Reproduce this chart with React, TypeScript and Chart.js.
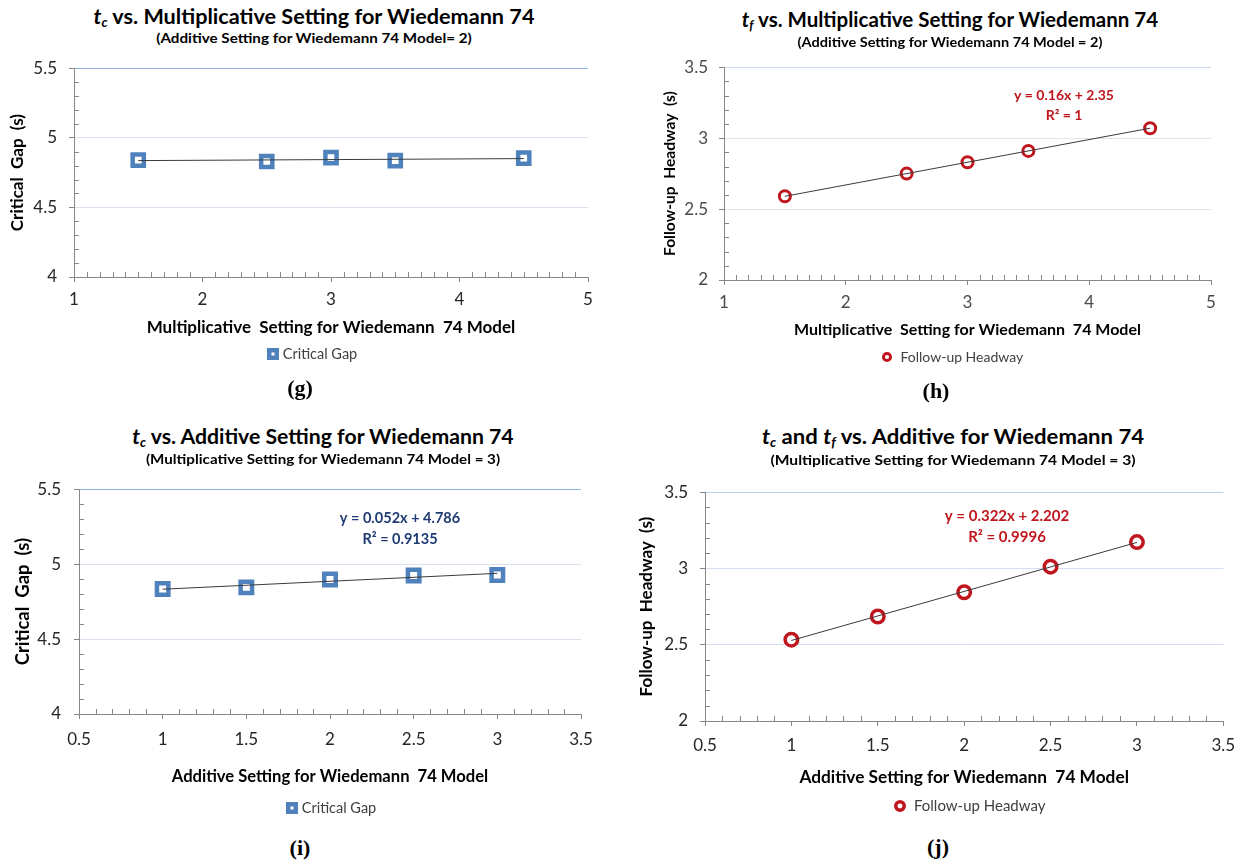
import React, { useEffect, useLayoutEffect, useRef } from "react";
import { Chart, registerables } from "chart.js";

Chart.register(...registerables);
Chart.defaults.font.family = "Lato";

// ---------- data ----------
const gX = [1.5, 2.5, 3, 3.5, 4.5];
const gY = [4.84, 4.83, 4.857, 4.836, 4.854];
const hX = [1.5, 2.5, 3, 3.5, 4.5];
const hY = [2.59, 2.75, 2.83, 2.91, 3.07];
const iX = [1, 1.5, 2, 2.5, 3];
const iY = [4.834, 4.845, 4.898, 4.924, 4.927];
const jX = [1, 1.5, 2, 2.5, 3];
const jY = [2.533, 2.685, 2.844, 3.012, 3.173];

const multTicks = [1, 2, 3, 4, 5];
const addTicks = [0.5, 1, 1.5, 2, 2.5, 3, 3.5];
const gapTicks = [4, 4.5, 5, 5.5];
const headwayTicks = [2, 2.5, 3, 3.5];

const gapLabel = "Critical Gap";
const headwayLabel = "Follow-up Headway";
const gapAxis = "Critical  Gap  (s)";
const headwayAxis = "Follow-up  Headway  (s)";
const multAxis = "Multiplicative  Setting for Wiedemann  74 Model";
const addAxis = "Additive Setting for Wiedemann  74 Model";

const hEq = ["y = 0.16x + 2.35", "R\u00B2 = 1"];
const iEq = ["y = 0.052x + 4.786", "R\u00B2 = 0.9135"];
const jEq = ["y = 0.322x + 2.202", "R\u00B2 = 0.9996"];

// ---------- helpers ----------
function trend(xs: number[], ys: number[]) {
  const n = xs.length;
  const mx = xs.reduce((a, b) => a + b, 0) / n;
  const my = ys.reduce((a, b) => a + b, 0) / n;
  let sxy = 0, sxx = 0;
  for (let k = 0; k < n; k++) {
    sxy += (xs[k] - mx) * (ys[k] - my);
    sxx += (xs[k] - mx) * (xs[k] - mx);
  }
  const b = sxy / sxx;
  const a = my - b * mx;
  const lo = Math.min(...xs), hi = Math.max(...xs);
  return [{ x: lo, y: a + b * lo }, { x: hi, y: a + b * hi }];
}

const placeLegend = {
  id: "placeLegend",
  afterLayout(chart: any, _a: any, o: any) {
    const lg = chart.legend;
    if (!lg || !o || o.x == null) return;
    const pad = lg.options.labels.padding;
    const lw = lg.lineWidths ? lg.lineWidths[0] : 0;
    const wd = lg.right - lg.left;
    const left = o.x - (wd + pad - lw) / 2;
    lg.left = left;
    lg.right = left + wd;
    const h = lg.bottom - lg.top;
    lg.top = o.y - pad - o.ih / 2;
    lg.bottom = lg.top + h;
  },
};

const minorTicks = {
  id: "minorTicks",
  afterDraw(chart: any, _a: any, o: any) {
    const { ctx, chartArea } = chart;
    const xs = chart.scales.x, ys = chart.scales.y;
    ctx.save();
    ctx.strokeStyle = o.color;
    ctx.lineWidth = 1;
    const isMajor = (s: any, v: number) => s.ticks.some((t: any) => Math.abs(t.value - v) < 1e-7);
    const nY = Math.round((ys.max - ys.min) / o.yStep);
    for (let k = 1; k < nY; k++) {
      const v = ys.min + k * o.yStep;
      if (isMajor(ys, v)) continue;
      const p = Math.round(ys.getPixelForValue(v)) + 0.5;
      ctx.beginPath();
      ctx.moveTo(chartArea.left, p);
      ctx.lineTo(chartArea.left + o.len, p);
      ctx.stroke();
    }
    const nX = Math.round((xs.max - xs.min) / o.xStep);
    for (let k = 1; k < nX; k++) {
      const v = xs.min + k * o.xStep;
      if (isMajor(xs, v)) continue;
      const p = Math.round(xs.getPixelForValue(v)) + 0.5;
      ctx.beginPath();
      ctx.moveTo(p, chartArea.bottom);
      ctx.lineTo(p, chartArea.bottom - o.len);
      ctx.stroke();
    }
    ctx.restore();
  },
};

const eqText = {
  id: "eqText",
  afterDatasetsDraw(chart: any, _a: any, o: any) {
    if (!o || !o.lines) return;
    const ctx = chart.ctx;
    ctx.save();
    ctx.font = `bold ${o.size}px Lato`;
    ctx.fillStyle = o.color;
    ctx.textAlign = "center";
    ctx.textBaseline = "middle";
    for (let k = 0; k < o.lines.length; k++) ctx.fillText(o.lines[k], o.x, o.ys[k]);
    ctx.restore();
  },
};

// ---------- panel configs (layout only) ----------
type Cfg = any;

const panels: Cfg[] = [
  {
    key: "g", xs: gX, ys: gY, xTicks: multTicks, yTicks: gapTicks,
    canvas: { x: 0, y: 46, w: 620, h: 330 },
    area: { l: 74, r: 588, t: 64, b: 277 },
    yTitle: { text: gapAxis, x: 18, size: 17 },
    xTitle: { text: multAxis, y: 328, size: 17 },
    tickSize: 17, tickColor: "#262626", yLabelRight: 57, xLabelY: 300,
    legend: { text: gapLabel, cx: 273, cy: 354, fs: 14.5, bw: 5, bh: 7.5 },
    marker: { style: "rect", r: 7.9, bw: 4.5, color: "#4f81bd" },
    grid: { top: "#8db3e2", mid: "#d9e3f0" },
    eq: null,
  },
  {
    key: "h", xs: hX, ys: hY, xTicks: multTicks, yTicks: headwayTicks,
    canvas: { x: 620, y: 46, w: 625, h: 334 },
    area: { l: 724, r: 1211, t: 67, b: 280 },
    yTitle: { text: headwayAxis, x: 670, size: 15.6 },
    xTitle: { text: multAxis, y: 330, size: 16 },
    tickSize: 17, tickColor: "#4a4a4a", yLabelRight: 708, xLabelY: 303,
    legend: { text: headwayLabel, cx: 887, cy: 357, fs: 14, bw: 13, bh: 5 },
    marker: { style: "circle", r: 5.5, bw: 3, color: "#c0161e" },
    grid: { top: "#cbd8ea", mid: "#dde5f0" },
    eq: { lines: hEq, x: 1064, ys: [95, 115], size: 14, color: "#c0161e" },
  },
  {
    key: "i", xs: iX, ys: iY, xTicks: addTicks, yTicks: gapTicks,
    canvas: { x: 0, y: 466, w: 620, h: 360 },
    area: { l: 79, r: 581, t: 482, b: 714 },
    yTitle: { text: gapAxis, x: 23, size: 18.5 },
    xTitle: { text: addAxis, y: 777, size: 16.6 },
    tickSize: 17, tickColor: "#262626", yLabelRight: 61, xLabelY: 740,
    legend: { text: gapLabel, cx: 292, cy: 808, fs: 14.5, bw: 5, bh: 7.5 },
    marker: { style: "rect", r: 8.1, bw: 4.5, color: "#4f81bd" },
    grid: { top: "#8db3e2", mid: "#d9e3f0" },
    eq: { lines: iEq, x: 400, ys: [518, 539], size: 14.5, color: "#1f3b73" },
  },
  {
    key: "j", xs: jX, ys: jY, xTicks: addTicks, yTicks: headwayTicks,
    canvas: { x: 620, y: 470, w: 625, h: 356 },
    area: { l: 705, r: 1227, t: 488, b: 721 },
    yTitle: { text: headwayAxis, x: 647, size: 17 },
    xTitle: { text: addAxis, y: 777, size: 17.3 },
    tickSize: 17, tickColor: "#262626", yLabelRight: 688, xLabelY: 746,
    legend: { text: headwayLabel, cx: 900, cy: 806, fs: 15, bw: 13, bh: 6 },
    marker: { style: "circle", r: 6.25, bw: 3.5, color: "#c0161e" },
    grid: { top: "#bcd0ea", mid: "#d3deee" },
    eq: { lines: jEq, x: 1007, ys: [516, 537], size: 15, color: "#c0161e" },
  },
];

const fmt = (v: any) => String(Number(v));

function Panel({ c }: { c: Cfg }) {
  const ref = useRef<HTMLCanvasElement>(null);
  useEffect(() => {
    if (!ref.current) return;
    const ytLH = c.yTitle.size * 1.2;
    const xtLH = c.xTitle.size * 1.2;
    const tkLH = c.tickSize * 1.2;
    const padL = c.yTitle.x - c.canvas.x - ytLH / 2;
    const yW = c.area.l - c.canvas.x - padL;
    const padR = c.canvas.x + c.canvas.w - c.area.r;
    const padT = c.area.t - c.canvas.y;
    const xH = c.xTitle.y - c.area.b + xtLH / 2;
    const ih = Math.max(c.legend.fs, c.legend.bh);
    const legH = ih + 10 + 10;
    const padB = c.canvas.y + c.canvas.h - c.area.b - xH - legH;
    const yTickPad = c.area.l - 5 - c.yLabelRight;
    const xTickPad = c.xLabelY - c.area.b - 5 - tkLH / 2;
    const yMin = c.yTicks[0], yMax = c.yTicks[c.yTicks.length - 1];
    const xMin = c.xTicks[0], xMax = c.xTicks[c.xTicks.length - 1];
    const pts = c.xs.map((x: number, k: number) => ({ x, y: c.ys[k] }));

    const chart = new Chart(ref.current, {
      type: "scatter",
      data: {
        datasets: [
          {
            label: "trend",
            data: trend(c.xs, c.ys),
            showLine: true,
            borderColor: "#3a3a3a",
            borderWidth: 1,
            pointRadius: 0,
            pointHoverRadius: 0,
          } as any,
          {
            label: c.legend.text,
            data: pts,
            showLine: false,
            pointStyle: c.marker.style,
            pointRadius: c.marker.r,
            pointHoverRadius: c.marker.r,
            pointBorderWidth: c.marker.bw,
            borderWidth: c.marker.bw,
            pointBorderColor: c.marker.color,
            borderColor: c.marker.color,
            pointBackgroundColor: "#ffffff",
            backgroundColor: "#ffffff",
          } as any,
        ],
      },
      options: {
        responsive: false,
        animation: false,
        events: [],
        layout: { padding: { left: padL, right: padR, top: padT, bottom: padB } },
        scales: {
          x: {
            type: "linear",
            min: xMin,
            max: xMax,
            afterBuildTicks: (s: any) => { s.ticks = c.xTicks.map((v: number) => ({ value: v })); },
            afterFit: (s: any) => { s.height = xH; },
            ticks: { padding: xTickPad, font: { size: c.tickSize }, color: c.tickColor, autoSkip: false, maxRotation: 0, callback: fmt },
            grid: { drawOnChartArea: false, drawTicks: true, tickLength: 5, tickColor: "#868686" },
            border: { color: "#868686", width: 1 },
            title: { display: true, text: c.xTitle.text, font: { size: c.xTitle.size, weight: "bold" }, color: "#000", padding: 0 },
          },
          y: {
            type: "linear",
            min: yMin,
            max: yMax,
            afterBuildTicks: (s: any) => { s.ticks = c.yTicks.map((v: number) => ({ value: v })); },
            afterFit: (s: any) => { s.width = yW; },
            ticks: { padding: yTickPad, font: { size: c.tickSize }, color: c.tickColor, autoSkip: false, callback: fmt },
            grid: {
              drawTicks: true,
              tickLength: 5,
              tickColor: "#868686",
              lineWidth: 1,
              color: (ctx: any) => {
                const v = ctx.tick ? ctx.tick.value : NaN;
                if (v === yMax) return c.grid.top;
                if (v === yMin) return "rgba(0,0,0,0)";
                return c.grid.mid;
              },
            },
            border: { color: "#868686", width: 1 },
            title: { display: true, text: c.yTitle.text, font: { size: c.yTitle.size, weight: "bold" }, color: "#000", padding: 0 },
          },
        },
        plugins: {
          legend: {
            position: "bottom",
            labels: {
              usePointStyle: true,
              boxWidth: c.legend.bw,
              boxHeight: c.legend.bh,
              padding: 10,
              font: { size: c.legend.fs },
              color: "#404040",
              filter: (item: any) => item.datasetIndex === 1,
            },
          },
          tooltip: { enabled: false },
          placeLegend: { x: c.legend.cx - c.legend.bw / 2 - c.canvas.x, y: c.legend.cy - c.canvas.y, ih },
          minorTicks: { xStep: 0.1, yStep: 0.1, len: 5, color: "#868686" },
          eqText: c.eq
            ? { lines: c.eq.lines, x: c.eq.x - c.canvas.x, ys: c.eq.ys.map((v: number) => v - c.canvas.y), size: c.eq.size, color: c.eq.color }
            : {},
        } as any,
      },
      plugins: [placeLegend, minorTicks, eqText],
    } as any);
    return () => chart.destroy();
  }, []);
  return (
    <canvas
      ref={ref}
      width={c.canvas.w}
      height={c.canvas.h}
      style={{ position: "absolute", left: c.canvas.x, top: c.canvas.y, width: c.canvas.w, height: c.canvas.h }}
    />
  );
}

function FitText(p: {
  cx: number; cy: number; width?: number; size: number; weight?: any; family?: string; color?: string; children: React.ReactNode;
}) {
  const ref = useRef<HTMLDivElement>(null);
  useLayoutEffect(() => {
    const el = ref.current;
    if (!el) return;
    const natural = el.offsetWidth;
    const k = p.width && natural ? p.width / natural : 1;
    el.style.transform = `translate(-50%, -50%) scaleX(${k})`;
  });
  return (
    <div
      ref={ref}
      style={{
        position: "absolute",
        left: p.cx,
        top: p.cy,
        whiteSpace: "nowrap",
        fontSize: p.size,
        fontWeight: p.weight ?? "bold",
        fontFamily: p.family ?? "Lato",
        color: p.color ?? "#000",
        lineHeight: 1,
        transform: "translate(-50%, -50%)",
        transformOrigin: "center center",
      }}
    >
      {p.children}
    </div>
  );
}

const T = ({ s }: { s: string }) => (
  <>
    <span style={{ fontStyle: "italic" }}>t</span>
    <sub style={{ fontSize: "0.62em", fontStyle: "italic", verticalAlign: "-0.3em", lineHeight: 0 }}>{s}</sub>
  </>
);

export default function App() {
  return (
    <div style={{ position: "absolute", left: 0, top: 0, width: 1245, height: 863, background: "#fff", overflow: "hidden" }}>
      {panels.map((c) => (
        <Panel key={c.key} c={c} />
      ))}

      <FitText cx={314} cy={15} width={441} size={21}>
        <T s="c" /> vs. Multiplicative Setting for Wiedemann 74
      </FitText>
      <FitText cx={314} cy={38} width={316} size={14}>
        (Additive Setting for Wiedemann 74 Model= 2)
      </FitText>

      <FitText cx={950} cy={18} width={416} size={21}>
        <T s="f" /> vs. Multiplicative Setting for Wiedemann 74
      </FitText>
      <FitText cx={950} cy={42} width={305} size={14}>
        (Additive Setting for Wiedemann 74 Model = 2)
      </FitText>

      <FitText cx={323} cy={435} width={381} size={21}>
        <T s="c" /> vs. Additive Setting for Wiedemann 74
      </FitText>
      <FitText cx={323} cy={459} width={354} size={14}>
        (Multiplicative Setting for Wiedemann 74 Model = 3)
      </FitText>

      <FitText cx={953} cy={435} width={382} size={21}>
        <T s="c" /> and <T s="f" /> vs. Additive for Wiedemann 74
      </FitText>
      <FitText cx={953} cy={460} width={365} size={14}>
        (Multiplicative Setting for Wiedemann 74 Model = 3)
      </FitText>

      <FitText cx={300} cy={388} size={22} family="Liberation Serif">(g)</FitText>
      <FitText cx={936} cy={391} size={22} family="Liberation Serif">(h)</FitText>
      <FitText cx={300} cy={848} size={22} family="Liberation Serif">(i)</FitText>
      <FitText cx={938} cy={847} size={22} family="Liberation Serif">(j)</FitText>
    </div>
  );
}
